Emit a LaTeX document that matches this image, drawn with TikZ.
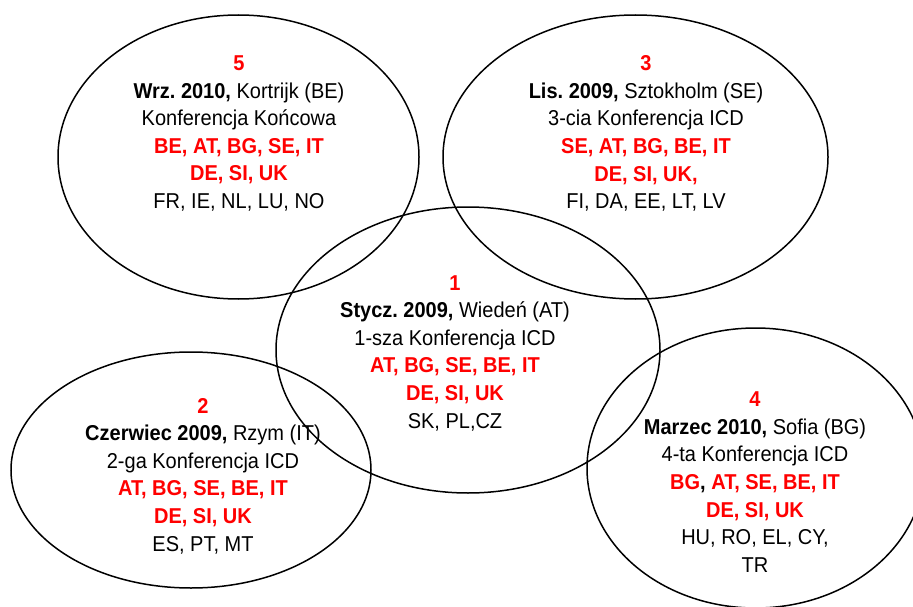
\documentclass[tikz,border=0pt]{standalone}
\usepackage{fontspec}
\setmainfont{Liberation Sans}[FakeStretch=0.93]
\usetikzlibrary{shapes.geometric}
\newcommand{\rd}[1]{\textcolor{red}{\textbf{#1}}}
\frenchspacing
\begin{document}
\frenchspacing
\begin{tikzpicture}[x=1pt,y=-1pt,
  ring/.style={draw=black, line width=1.5pt, ellipse, inner sep=0pt},
  txt/.style={align=center, inner sep=0pt, font=\fontsize{21.5}{27.6}\selectfont}]
\useasboundingbox (0,0) rectangle (913,607);
\clip (0,0) rectangle (913,607);
\node[ring, minimum width=361pt, minimum height=284pt] (e5) at (238.5,157) {};
\node[ring, minimum width=385pt, minimum height=284pt] (e3) at (635.5,157) {};
\node[ring, minimum width=384pt, minimum height=286pt] (e1) at (468,350) {};
\node[ring, minimum width=360pt, minimum height=236pt] (e2) at (191,470) {};
\node[ring, minimum width=337pt, minimum height=280pt] (e4) at (755.5,468) {};
\node[txt] (t5) at (239,133.5) {\rd{5}\\ \textbf{Wrz. 2010,} Kortrijk (BE)\\ Konferencja Końcowa\\ \rd{BE, AT, BG, SE, IT}\\ \rd{DE, SI, UK}\\ FR, IE, NL, LU, NO};
\node[txt] (t3) at (646,133.5) {\rd{3}\\ \textbf{Lis. 2009,} Sztokholm (SE)\\ 3-cia Konferencja ICD\\ \rd{SE, AT, BG, BE, IT}\\ \rd{DE, SI, UK,}\\ FI, DA, EE, LT, LV};
\node[txt] (t1) at (455,353) {\rd{1}\\ \textbf{Stycz. 2009,} Wiedeń (AT)\\ 1-sza Konferencja ICD\\ \rd{AT, BG, SE, BE, IT}\\ \rd{DE, SI, UK}\\ SK, PL,CZ};
\node[txt] (t2) at (203,476) {\rd{2}\\ \textbf{Czerwiec 2009,} Rzym (IT)\\ 2-ga Konferencja ICD\\ \rd{AT, BG, SE, BE, IT}\\ \rd{DE, SI, UK}\\ ES, PT, MT};
\node[txt] (t4) at (755,482) {\rd{4}\\ \textbf{Marzec 2010,} Sofia (BG)\\ 4-ta Konferencja ICD\\ \rd{BG}\textbf{,} \rd{AT, SE, BE, IT}\\ \rd{DE, SI, UK}\\ HU, RO, EL, CY,\\ TR};
\end{tikzpicture}
\end{document}
